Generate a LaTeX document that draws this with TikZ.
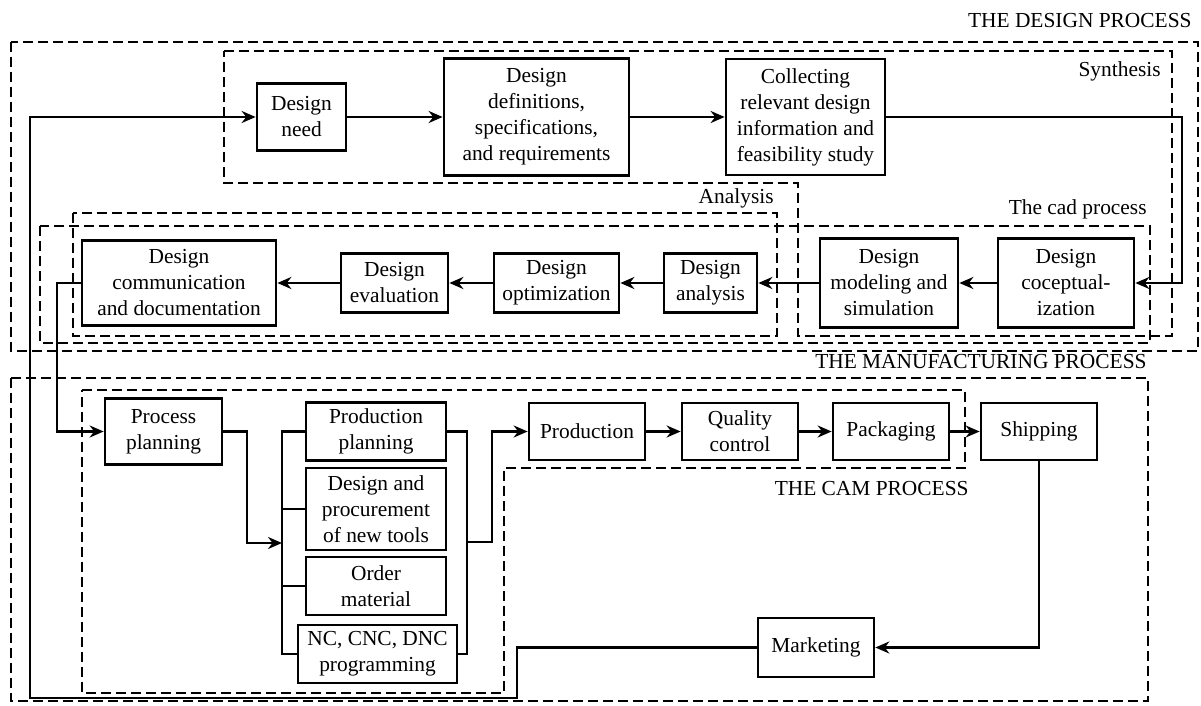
\documentclass[tikz,border=0pt]{standalone}
\usepackage{fontspec}
\setmainfont{Liberation Serif}
\usetikzlibrary{arrows.meta}
\newcommand\bxfont{\fontsize{10.7}{13}\selectfont}
\begin{document}
\begin{tikzpicture}[x=0.5pt,y=-0.5pt,
  box/.style={draw,line width=1.35pt,align=center,inner sep=1pt,font=\bxfont},
  ln/.style={line width=1.3pt},
  arr/.style={ln,-{Stealth[length=7pt,width=6pt]}},
  dbox/.style={line width=1.15pt,dash pattern=on 5pt off 2.5pt},
  lbl/.style={inner sep=0pt,font=\bxfont}]
\useasboundingbox (0,0) rectangle (1201,706);
\fill[white] (0,0) rectangle (1201,706);

% dashed regions
\draw[dbox] (11,42) rectangle (1198,351);
\draw[dbox] (224,51) -- (1172,51) -- (1172,336) -- (798,336) -- (798,183) -- (224,183) -- cycle;
\draw[dbox] (73,213) rectangle (777,336);
\draw[dbox] (40,226) rectangle (1150,343);
\draw[dbox] (11,378) rectangle (1148,701);
\draw[dbox] (82,390) -- (965,390) -- (965,468) -- (504,468) -- (504,693) -- (82,693) -- cycle;

% labels
\node[lbl,anchor=base east] (tdp) at (1192,28) {THE DESIGN PROCESS};
\node[lbl,anchor=base east] (tsy) at (1161,77) {Synthesis};
\node[lbl,anchor=base east] (tan) at (774,204) {Analysis};
\node[lbl,anchor=base east] (tcad) at (1147,215) {The cad process};
\node[lbl,anchor=base east] (tmp) at (1147,368) {THE MANUFACTURING PROCESS};
\node[lbl,anchor=base east] (tcam) at (969,495) {THE CAM PROCESS};

% design row 1
\node[box,minimum width=44.5pt,minimum height=33.5pt] (need) at (301.5,117) {Design\\need};
\node[box,minimum width=92.5pt,minimum height=58.5pt] (defs) at (536.5,117) {Design\\definitions,\\specifications,\\and requirements};
\node[box,minimum width=79.5pt,minimum height=58pt] (collect) at (805.5,117) {Collecting\\relevant design\\information and\\feasibility study};

% design row 2
\node[box,minimum width=97pt,minimum height=42.5pt] (comm) at (179,283) {Design\\communication\\and documentation};
\node[box,minimum width=53.5pt,minimum height=29.5pt] (eval) at (394.5,283) {Design\\evaluation};
\node[box,minimum width=62.5pt,minimum height=29.5pt] (opt) at (556.5,283) {Design\\optimization};
\node[box,minimum width=46.5pt,minimum height=29.5pt] (ana) at (710.5,283) {Design\\analysis};
\node[box,minimum width=69pt,minimum height=44.5pt] (model) at (889,283) {Design\\modeling and\\simulation};
\node[box,minimum width=68pt,minimum height=44.5pt] (concept) at (1066,283) {Design\\coceptual-\\ization};

% manufacturing
\node[box,minimum width=58.5pt,minimum height=33pt] (pp) at (163.5,431.5) {Process\\planning};
\node[box,minimum width=70pt,minimum height=29pt] (ppl) at (376,431.5) {Production\\planning};
\node[box,minimum width=70pt,minimum height=41pt] (dp) at (376,509) {Design and\\procurement\\of new tools};
\node[box,minimum width=70pt,minimum height=29pt] (om) at (376,586) {Order\\material};
\node[box,minimum width=79.5pt,minimum height=29pt] (nc) at (377.5,654) {NC, CNC, DNC\\programming};
\node[box,minimum width=58pt,minimum height=28.5pt] (prod) at (587,431.5) {Production};
\node[box,minimum width=58pt,minimum height=28.5pt] (qc) at (740,431.5) {Quality\\control};
\node[box,minimum width=58pt,minimum height=28.5pt] (pack) at (891,431.5) {Packaging};
\node[box,minimum width=58pt,minimum height=28.5pt] (ship) at (1039,431.5) {Shipping};
\node[box,minimum width=58pt,minimum height=29.5pt] (mkt) at (816,647.5) {Marketing};

% coordinates
\coordinate (fbR) at (1182,117);
\coordinate (cl) at (57,431.5);
\coordinate (j1) at (247,543);
\coordinate (bL) at (282,543);
\coordinate (bLt) at (282,431.5);
\coordinate (bLb) at (282,654);
\coordinate (bRt) at (467,431.5);
\coordinate (bRb) at (467,654);
\coordinate (bRm) at (467,542);
\coordinate (up) at (492,542);
\coordinate (m1) at (517,698);
\coordinate (fbL) at (30,698);

% connectors
\draw[arr] (need) -- (defs);
\draw[arr] (defs) -- (collect);
\draw[arr] (collect.east) -- (fbR) |- (concept.east);
\draw[arr] (concept) -- (model);
\draw[arr] (model) -- (ana);
\draw[arr] (ana) -- (opt);
\draw[arr] (opt) -- (eval);
\draw[arr] (eval) -- (comm);
\draw[arr] (comm.west) -| (cl) -- (pp.west);
\draw[arr] (pp.east) -| (j1) -- (bL);
\draw[ln] (ppl.west) -- (bLt) -- (bLb) -- (nc.west);
\draw[ln] (dp.west) -- (dp.west -| bLt);
\draw[ln] (om.west) -- (om.west -| bLt);
\draw[ln] (ppl.east) -- (bRt) -- (bRb) -- (nc.east);
\draw[arr] (bRm) -- (up) |- (prod.west);
\draw[arr] (prod) -- (qc);
\draw[arr] (qc) -- (pack);
\draw[arr] (pack) -- (ship);
\draw[arr] (ship.south) |- (mkt.east);
\draw[arr] (mkt.west) -| (m1) -- (fbL) |- (need.west);
\end{tikzpicture}
\end{document}
